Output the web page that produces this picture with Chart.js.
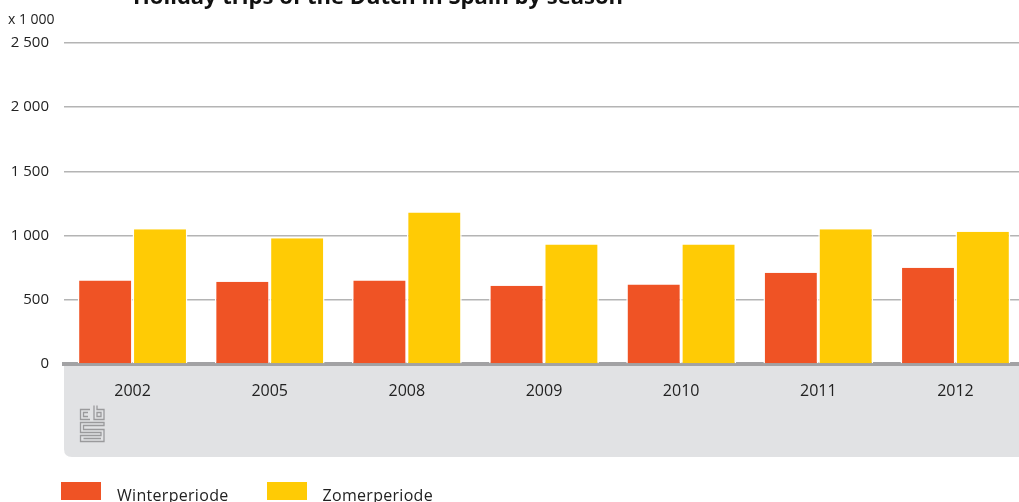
<!DOCTYPE html>
<html>
<head>
<meta charset="utf-8">
<script src="https://cdn.jsdelivr.net/npm/chart.js@4/dist/chart.umd.min.js"></script>
<style>
  html, body { margin: 0; padding: 0; background: #fff; overflow: hidden; }
  #wrap { position: relative; width: 1024px; height: 502px; }
  #title {
    position: absolute; left: 133px; top: -16px; margin: 0;
    font: bold 22px "Open Sans", sans-serif; line-height: 22px; color: #111;
    white-space: nowrap;
  }
  #unit {
    position: absolute; left: 8px; top: 10px;
    font: 14px "Open Sans", sans-serif; line-height: 18px; color: #222;
  }
  #legend {
    position: absolute; left: 61px; top: 482px; display: flex;
    font: 16px "Open Sans", sans-serif; line-height: 18px; color: #222;
    letter-spacing: 0.3px;
  }
  .item { display: flex; align-items: flex-start; margin-right: 38px; }
  .box { width: 40px; height: 18px; margin-right: 16px; }
  .txt { position: relative; top: 4px; }
</style>
</head>
<body>
<div id="wrap">
  <canvas id="chart" width="1024" height="502"></canvas>
  <div id="title">Holiday trips of the Dutch in Spain by season</div>
  <div id="unit">x 1 000</div>
  <div id="legend"></div>
</div>
<script>
const years = ['2002', '2005', '2008', '2009', '2010', '2011', '2012'];
const seriesNames = ['Winterperiode', 'Zomerperiode'];
const winter = [650, 640, 650, 610, 620, 710, 750];
const summer = [1050, 980, 1180, 930, 930, 1050, 1030];
const colors = ['#ef5325', '#ffcb05'];

const ctx = document.getElementById('chart');

const bandPlugin = {
  id: 'band',
  beforeDraw(chart) {
    const { ctx, chartArea: { left, bottom } } = chart;
    const right = chart.width;
    const bandBottom = 457;
    const r = 8;
    ctx.save();
    ctx.fillStyle = '#e1e2e4';
    ctx.beginPath();
    ctx.moveTo(left, bottom);
    ctx.lineTo(right, bottom);
    ctx.lineTo(right, bandBottom);
    ctx.lineTo(left + r, bandBottom);
    ctx.quadraticCurveTo(left, bandBottom, left, bandBottom - r);
    ctx.closePath();
    ctx.fill();

    // cbs logo
    ctx.strokeStyle = '#9a9a9c';
    ctx.lineWidth = 1.3;
    const x = 80.5, y = 405.5;
    ctx.beginPath();
    // c
    ctx.moveTo(90, y + 4); ctx.lineTo(x, y + 4); ctx.lineTo(x, y + 14); ctx.lineTo(90, y + 14);
    ctx.moveTo(88, y + 7); ctx.lineTo(x + 3, y + 7); ctx.lineTo(x + 3, y + 11); ctx.lineTo(88, y + 11);
    // b
    ctx.moveTo(94, y); ctx.lineTo(94, y + 14); ctx.lineTo(104, y + 14); ctx.lineTo(104, y + 4); ctx.lineTo(97, y + 4); ctx.lineTo(97, y);
    ctx.moveTo(97, y + 7); ctx.lineTo(101, y + 7); ctx.lineTo(101, y + 11); ctx.lineTo(97, y + 11); ctx.closePath();
    // s
    ctx.moveTo(104, y + 17); ctx.lineTo(x, y + 17); ctx.lineTo(x, y + 27); ctx.lineTo(101, y + 27); ctx.lineTo(101, y + 30);
    ctx.lineTo(x, y + 30); ctx.lineTo(x, y + 36); ctx.lineTo(104, y + 36); ctx.lineTo(104, y + 24); ctx.lineTo(x + 3, y + 24);
    ctx.lineTo(x + 3, y + 20); ctx.lineTo(104, y + 20); ctx.closePath();
    ctx.moveTo(x + 3, y + 33); ctx.lineTo(101, y + 33);
    ctx.stroke();
    ctx.restore();
  }
};

new Chart(ctx, {
  type: 'bar',
  data: {
    labels: years,
    datasets: [
      { label: seriesNames[0], data: winter, backgroundColor: colors[0] },
      { label: seriesNames[1], data: summer, backgroundColor: colors[1] }
    ]
  },
  options: {
    responsive: false,
    animation: false,
    layout: { padding: { top: 43, bottom: 45, left: 0, right: 0 } },
    datasets: {
      bar: {
        borderColor: '#ffffff',
        borderWidth: { top: 0, left: 1.5, right: 1.5, bottom: 0 },
        barPercentage: 1,
        categoryPercentage: 0.8
      }
    },
    scales: {
      y: {
        min: 0,
        max: 2500,
        afterFit(scale) { scale.width = 64; },
        ticks: {
          stepSize: 500,
          padding: 15,
          color: '#222',
          font: { family: 'Open Sans', size: 15 },
          callback: (v) => v.toLocaleString('en-US').replace(',', ' ')
        },
        grid: { color: '#b4b4b4', lineWidth: 1.5, drawTicks: false },
        border: { display: false }
      },
      x: {
        afterFit(scale) { scale.height = 93; },
        ticks: {
          padding: 10,
          color: '#222',
          font: { family: 'Open Sans', size: 16 }
        },
        grid: { display: false },
        border: { display: true, color: '#a2a2a4', width: 4 }
      }
    },
    plugins: {
      legend: { display: false },
      tooltip: { enabled: false }
    }
  },
  plugins: [bandPlugin]
});

const legend = document.getElementById('legend');
seriesNames.forEach((name, i) => {
  const item = document.createElement('div');
  item.className = 'item';
  item.innerHTML = '<div class="box" style="background:' + colors[i] + '"></div><span class="txt">' + name + '</span>';
  legend.appendChild(item);
});
</script>
</body>
</html>
